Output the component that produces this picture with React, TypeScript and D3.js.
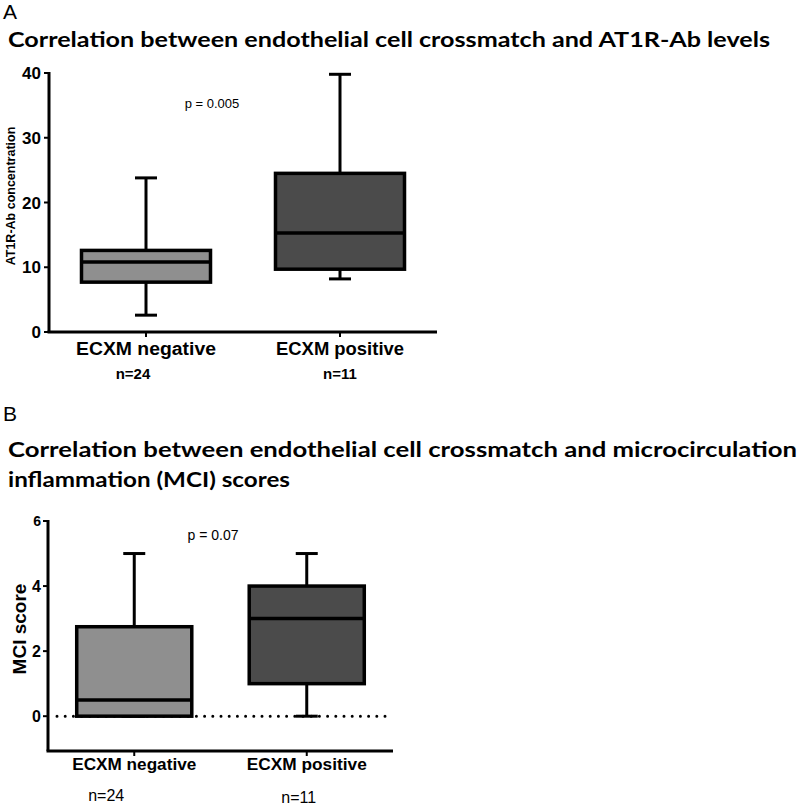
import React from 'react';
import * as d3 from 'd3';

// groups and sample sizes
const groups = ['ECXM negative', 'ECXM positive'];
const nLabels = ['n=24', 'n=11'];
const boxFills = ['#8f8f8f', '#4b4b4b'];

// panel A: AT1R-Ab concentration
const at1rMin = [2.6, 8.2];
const at1rQ1 = [7.7, 9.7];
const at1rMedian = [10.8, 15.3];
const at1rQ3 = [12.6, 24.5];
const at1rMax = [23.8, 39.8];
const at1rTicks = [0, 10, 20, 30, 40];

// panel B: MCI score
const mciMin = [0, 0];
const mciQ1 = [0, 1];
const mciMedian = [0.5, 3];
const mciQ3 = [2.75, 4];
const mciMax = [5, 5];
const mciTicks = [0, 2, 4, 6];

const axisFont = '"Liberation Sans", Arial, sans-serif';
const titleFont = 'Lato, "Open Sans", sans-serif';

interface BoxStats {
  min: number[];
  q1: number[];
  median: number[];
  q3: number[];
  max: number[];
}

interface PanelProps {
  stats: BoxStats;
  x: d3.ScaleBand<string>;
  y: d3.ScaleLinear<number, number>;
  boxRatio: number;
  capWidth: number;
}

const Boxes: React.FC<PanelProps> = ({ stats, x, y, boxRatio, capWidth }) => {
  const bw = x.bandwidth() * boxRatio;
  return (
    <g>
      {groups.map((g, i) => {
        const cx = (x(g) as number) + x.bandwidth() / 2;
        return (
          <g key={g}>
            {/* whiskers */}
            <line x1={cx} x2={cx} y1={y(stats.max[i])} y2={y(stats.q3[i])} stroke="#000" strokeWidth={3} />
            <line x1={cx} x2={cx} y1={y(stats.q1[i])} y2={y(stats.min[i])} stroke="#000" strokeWidth={3} />
            <line x1={cx - capWidth / 2} x2={cx + capWidth / 2} y1={y(stats.max[i])} y2={y(stats.max[i])} stroke="#000" strokeWidth={3} />
            <line x1={cx - capWidth / 2} x2={cx + capWidth / 2} y1={y(stats.min[i])} y2={y(stats.min[i])} stroke="#000" strokeWidth={3} />
            <rect
              x={cx - bw / 2}
              y={y(stats.q3[i])}
              width={bw}
              height={y(stats.q1[i]) - y(stats.q3[i])}
              fill={boxFills[i]}
              stroke="#000"
              strokeWidth={3.5}
            />
            <line x1={cx - bw / 2} x2={cx + bw / 2} y1={y(stats.median[i])} y2={y(stats.median[i])} stroke="#000" strokeWidth={3.5} />
          </g>
        );
      })}
    </g>
  );
};

const App: React.FC = () => {
  // panel A scales
  const xA = d3.scaleBand<string>().domain(groups).range([49, 437]).padding(0);
  const yA = d3.scaleLinear().domain([0, 40]).range([332, 73]);

  // panel B scales
  const xB = d3.scaleBand<string>().domain(groups).range([48, 393]).padding(0);
  const yB = d3.scaleLinear().domain([-1.07, 6]).range([751, 521]);

  const statsA: BoxStats = { min: at1rMin, q1: at1rQ1, median: at1rMedian, q3: at1rQ3, max: at1rMax };
  const statsB: BoxStats = { min: mciMin, q1: mciQ1, median: mciMedian, q3: mciQ3, max: mciMax };

  return (
    <div style={{ position: 'absolute', left: 0, top: 0 }}>
      <svg width={800} height={806} style={{ display: 'block', background: '#fff' }}>
        {/* ---------- Panel A ---------- */}
        <text x={3} y={19} fontFamily={axisFont} fontSize={21}>A</text>
        <text x={8} y={47} fontFamily={titleFont} fontWeight="bold" fontSize={21}
          textLength={762} lengthAdjust="spacingAndGlyphs">
          Correlation between endothelial cell crossmatch and AT1R-Ab levels
        </text>

        {/* y axis */}
        <line x1={xA.range()[0]} x2={xA.range()[0]} y1={yA(40) - 1} y2={yA(0)} stroke="#000" strokeWidth={3} />
        {at1rTicks.map(t => (
          <g key={t}>
            <line x1={xA.range()[0] - 5} x2={xA.range()[0]} y1={yA(t)} y2={yA(t)} stroke="#000" strokeWidth={2} />
            <text x={xA.range()[0] - 8} y={yA(t)} dy="0.36em" textAnchor="end"
              fontFamily={axisFont} fontWeight="bold" fontSize={17}>{t}</text>
          </g>
        ))}
        <text transform={`translate(15,196) rotate(-90)`} textAnchor="middle"
          fontFamily={axisFont} fontWeight="bold" fontSize={12.5}>AT1R-Ab concentration</text>

        {/* x axis */}
        <line x1={xA.range()[0] - 1.5} x2={xA.range()[1]} y1={yA(0)} y2={yA(0)} stroke="#000" strokeWidth={3} />
        {groups.map((g, i) => {
          const cx = (xA(g) as number) + xA.bandwidth() / 2;
          return (
            <g key={g}>
              <line x1={cx} x2={cx} y1={yA(0)} y2={yA(0) + 5} stroke="#000" strokeWidth={2} />
              <text x={cx} y={355} textAnchor="middle" fontFamily={axisFont} fontWeight="bold" fontSize={18}
                textLength={i === 0 ? 140 : 128} lengthAdjust="spacingAndGlyphs">{g}</text>
              <text x={cx - (i === 0 ? 13 : 0)} y={379} textAnchor="middle" fontFamily={axisFont} fontWeight="bold" fontSize={15}>{nLabels[i]}</text>
            </g>
          );
        })}

        <Boxes stats={statsA} x={xA} y={yA} boxRatio={0.665} capWidth={22} />

        <text x={212} y={108} textAnchor="middle" fontFamily={axisFont} fontSize={13}>p = 0.005</text>

        {/* ---------- Panel B ---------- */}
        <text x={3} y={421} fontFamily={axisFont} fontSize={21}>B</text>
        <text x={8} y={457} fontFamily={titleFont} fontWeight="bold" fontSize={21}
          textLength={789} lengthAdjust="spacingAndGlyphs">
          Correlation between endothelial cell crossmatch and microcirculation
        </text>
        <text x={8} y={487} fontFamily={titleFont} fontWeight="bold" fontSize={21}
          textLength={282} lengthAdjust="spacingAndGlyphs">
          inflammation (MCI) scores
        </text>

        {/* zero reference line */}
        <line x1={57} x2={386} y1={yB(0)} y2={yB(0)} stroke="#000" strokeWidth={3}
          strokeDasharray="0 8.2" strokeLinecap="round" />

        {/* y axis */}
        <line x1={xB.range()[0]} x2={xB.range()[0]} y1={yB(6) - 1} y2={yB(-1.07)} stroke="#000" strokeWidth={3} />
        {mciTicks.map(t => (
          <g key={t}>
            <line x1={xB.range()[0] - 5} x2={xB.range()[0]} y1={yB(t)} y2={yB(t)} stroke="#000" strokeWidth={2} />
            <text x={xB.range()[0] - 7} y={yB(t)} dy="0.36em" textAnchor="end"
              fontFamily={axisFont} fontWeight="bold" fontSize={t === 6 ? 14 : 16}>{t}</text>
          </g>
        ))}
        <text transform={`translate(26,629) rotate(-90)`} textAnchor="middle"
          fontFamily={axisFont} fontWeight="bold" fontSize={19}>MCI score</text>

        {/* x axis */}
        <line x1={xB.range()[0] - 1.5} x2={xB.range()[1]} y1={yB(-1.07)} y2={yB(-1.07)} stroke="#000" strokeWidth={3} />
        {groups.map((g, i) => {
          const cx = (xB(g) as number) + xB.bandwidth() / 2;
          return (
            <g key={g}>
              <line x1={cx} x2={cx} y1={yB(-1.07)} y2={yB(-1.07) + 5} stroke="#000" strokeWidth={2} />
              <text x={cx} y={770} textAnchor="middle" fontFamily={axisFont} fontWeight="bold" fontSize={16.5}
                textLength={i === 0 ? 124 : 120} lengthAdjust="spacingAndGlyphs">{g}</text>
              <text x={cx - (i === 0 ? 28 : 8)} y={i === 0 ? 801 : 803} textAnchor="middle"
                fontFamily={axisFont} fontSize={16}>{nLabels[i]}</text>
            </g>
          );
        })}

        <Boxes stats={statsB} x={xB} y={yB} boxRatio={0.667} capWidth={22} />

        <text x={213} y={540} textAnchor="middle" fontFamily={axisFont} fontSize={14}>p = 0.07</text>
      </svg>
    </div>
  );
};

export default App;
